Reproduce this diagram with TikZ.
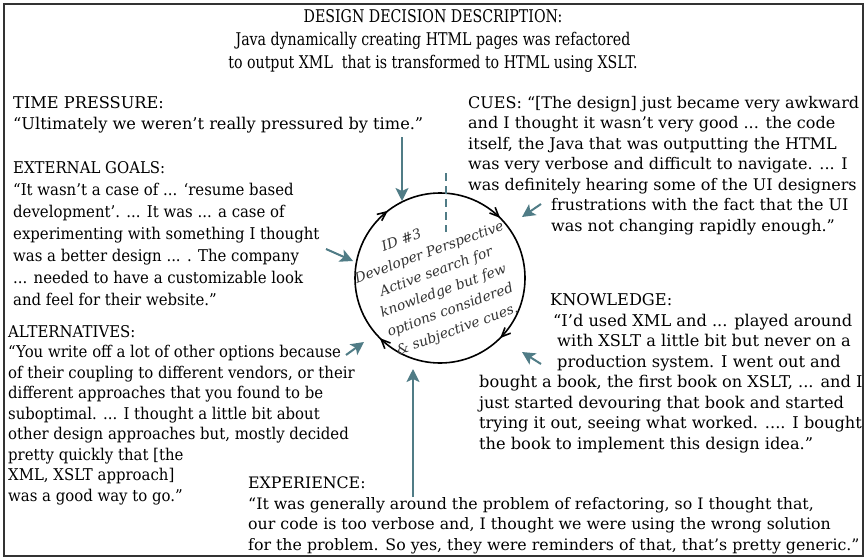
\documentclass[tikz,border=0pt]{standalone}
\usepackage{fontspec}
\setmainfont{DejaVu Serif}
\newfontfamily\ttlfont[FakeStretch=0.81]{DejaVu Serif}
\usetikzlibrary{arrows.meta,decorations.markings}
\definecolor{tc}{RGB}{80,124,134}
\tikzset{txt/.style={anchor=base west,align=left,inner sep=0pt,font=\fontsize{16.2}{20.5}\selectfont},
 nar/.style={txt,font=\fontsize{16.2}{#1}\selectfont\addfontfeature{FakeStretch=0.92}},
 ttl/.style={anchor=base,align=center,inner sep=0pt,font=\ttlfont\fontsize{17.5}{23}\selectfont},
 ctx/.style={rotate=20,align=center,inner sep=0pt,text=black!80,font=\itshape\fontsize{13.8}{20.5}\selectfont},
 ta/.style={draw=tc,line width=2pt,-{Stealth[length=13pt,width=13pt,inset=3pt]}},
 dsh/.style={draw=tc,line width=1.6pt,dash pattern=on 8pt off 5pt},
 ring/.style={line width=1.6pt,postaction={decorate},decoration={markings,
  mark=at position .125 with {\arrow{Straight Barb[length=9pt,width=8pt]}},
  mark=at position .375 with {\arrow{Straight Barb[length=9pt,width=8pt]}},
  mark=at position .645 with {\arrow{Straight Barb[length=9pt,width=8pt]}},
  mark=at position .875 with {\arrow{Straight Barb[length=9pt,width=8pt]}}}}}
\begin{document}
\begin{tikzpicture}[x=1pt,y=-1pt]
\useasboundingbox (0,0) rectangle (866,559);
\draw[line width=1.3pt,draw=black!80] (4,4) rectangle (863,556);
\node[ttl] (ttl) at (433,69) {DESIGN DECISION DESCRIPTION:\\Java dynamically creating HTML pages was refactored\\to output XML\ \ that is transformed to HTML using XSLT.};
% quotes round the cycle
\node[txt] (tp) at (13,129) {TIME PRESSURE:\\“Ultimately we weren’t really pressured by time.”};
\node[nar=22] (eg) at (13,305) {EXTERNAL GOALS:\\“It wasn’t a case of ... ‘resume based\\development’. ... It was ... a case of\\experimenting with something I thought\\was a better design ... . The company\\... needed to have a customizable look\\and feel for their website.”};
\node[nar=20.5] (alt) at (8,501) {ALTERNATIVES:\\“You write off a lot of other options because\\of their coupling to different vendors, or their\\different approaches that you found to be\\suboptimal. ... I thought a little bit about\\other design approaches but, mostly decided\\pretty quickly that [the\\XML, XSLT approach]\\was a good way to go.”};
\node[txt,font=\fontsize{15.8}{20.5}\selectfont] (exp) at (248,550) {EXPERIENCE:\\“It was generally around the problem of refactoring, so I thought that,\\our code is too verbose and, I thought we were using the wrong solution\\for the problem. So yes, they were reminders of that, that’s pretty generic.”};
\node[txt,font=\fontsize{16}{20.5}\selectfont] (cue) at (468,231) {CUES: “[The design] just became very awkward\\and I thought it wasn’t very good ... the code\\itself, the Java that was outputting the HTML\\was very verbose and difficult to navigate. ... I\\was definitely hearing some of the UI designers\\\hspace*{83pt}frustrations with the fact that the UI\\\hspace*{83pt}was not changing rapidly enough.”};
\node[txt] (kno) at (479,449) {\hspace*{71pt}KNOWLEDGE:\\\hspace*{74pt}“I’d used XML and ... played around\\\hspace*{78pt}with XSLT a little bit but never on a\\\hspace*{78pt}production system. I went out and\\bought a book, the first book on XSLT, ... and I\\just started devouring that book and started\\trying it out, seeing what worked. .... I bought\\the book to implement this design idea.”};
% the cycle
\coordinate (c) at (440,278);
\draw[ring] (c) circle[radius=85];
\draw[dsh] (446,173) -- (446,232);
\node[ctx] (lbl) at (440,282) {ID \#3\hspace*{44pt}\\Developer Perspective\\Active search for\\knowledge but few\\options considered\\\& subjective cues.};
\coordinate (t1) at (402,137); \coordinate (h1) at (402,201);
\coordinate (t2) at (326,249); \coordinate (h2) at (353,261);
\coordinate (t3) at (541,204); \coordinate (h3) at (522,217);
\coordinate (t4) at (541,364); \coordinate (h4) at (522,352);
\coordinate (t5) at (346,355); \coordinate (h5) at (364,342);
\coordinate (t6) at (413,497); \coordinate (h6) at (413,369);
\foreach \i in {1,...,6}{\draw[ta] (t\i) -- (h\i);}
\end{tikzpicture}
\end{document}
